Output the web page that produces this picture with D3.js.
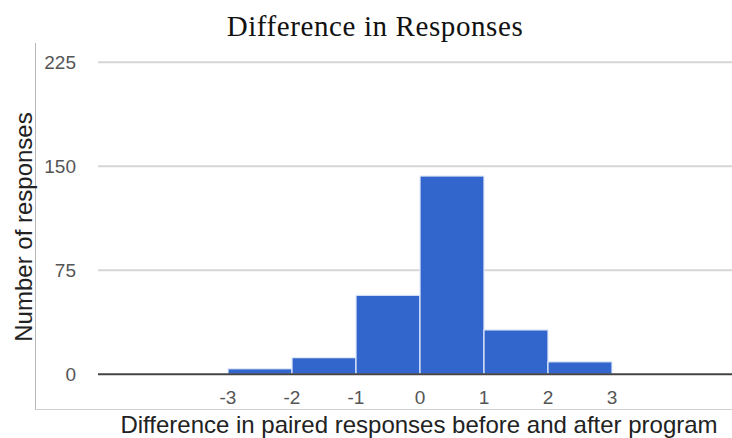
<!DOCTYPE html>
<html><head><meta charset="utf-8">
<script src="https://cdn.jsdelivr.net/npm/d3@7"></script>
<style>body{margin:0;background:#fff}</style>
</head><body>
<svg id="c" width="732" height="438"></svg>
<script>
const binStarts = [-3, -2, -1, 0, 1, 2];
const counts = [4, 12, 57, 143, 32, 9];
const xTicks = [-3, -2, -1, 0, 1, 2, 3];
const yTicks = [0, 75, 150, 225];
const title = "Difference in Responses";
const xTitle = "Difference in paired responses before and after program";
const yTitle = "Number of responses";

const svg = d3.select("#c");
const x = d3.scaleLinear().domain([-5, 5]).range([100, 740]);
const y = d3.scaleLinear().domain([0, 225]).range([374.3, 62.3]);
const plotL = 98, plotR = 732;

// frame
svg.append("line").attr("x1",35.5).attr("x2",35.5).attr("y1",43).attr("y2",409.5).attr("stroke","#b8b8b8");
svg.append("line").attr("x1",35).attr("x2",732).attr("y1",409.5).attr("y2",409.5).attr("stroke","#cfcfcf");

// gridlines
svg.append("g").selectAll("line").data(yTicks.filter(d=>d>0)).join("line")
  .attr("x1",plotL).attr("x2",plotR).attr("y1",d=>y(d)).attr("y2",d=>y(d))
  .attr("stroke","#d6d6d6").attr("stroke-width",2);

// y labels
svg.append("g").selectAll("text").data(yTicks).join("text")
  .attr("x",76).attr("y",d=>y(d)).attr("dy","0.36em").attr("text-anchor","end")
  .attr("font-family","Liberation Sans, Arial, sans-serif").attr("font-size",19).attr("fill","#555")
  .text(d=>d);

// bars
svg.append("g").selectAll("rect").data(binStarts).join("rect")
  .attr("x",(d)=>x(d)).attr("width",(d)=>x(d+1)-x(d))
  .attr("y",(d,i)=>y(counts[i])).attr("height",(d,i)=>y(0)-y(counts[i]))
  .attr("fill","#3366cc").attr("stroke","#e3ebf8").attr("stroke-width",1.2);

// baseline
svg.append("line").attr("x1",plotL).attr("x2",plotR).attr("y1",y(0)).attr("y2",y(0))
  .attr("stroke","#444").attr("stroke-width",2);

// x ticks labels
svg.append("g").selectAll("text").data(xTicks).join("text")
  .attr("x",d=>x(d)).attr("y",397).attr("dy","0.36em").attr("text-anchor","middle")
  .attr("font-family","Liberation Sans, Arial, sans-serif").attr("font-size",19).attr("fill","#555")
  .text(d=>d);

// titles
svg.append("text").attr("x",375).attr("y",36).attr("text-anchor","middle")
  .attr("font-family","Liberation Serif, Times New Roman, serif").attr("font-size",29)
  .attr("letter-spacing",0.6).attr("fill","#111")
  .text(title);
svg.append("text").attr("x",419).attr("y",433).attr("text-anchor","middle")
  .attr("font-family","Liberation Sans, Arial, sans-serif").attr("font-size",24).attr("fill","#222")
  .text(xTitle);
svg.append("text").attr("transform","translate(32,227) rotate(-90)").attr("text-anchor","middle")
  .attr("font-family","Liberation Sans, Arial, sans-serif").attr("font-size",24).attr("fill","#222")
  .text(yTitle);
</script>
</body></html>
